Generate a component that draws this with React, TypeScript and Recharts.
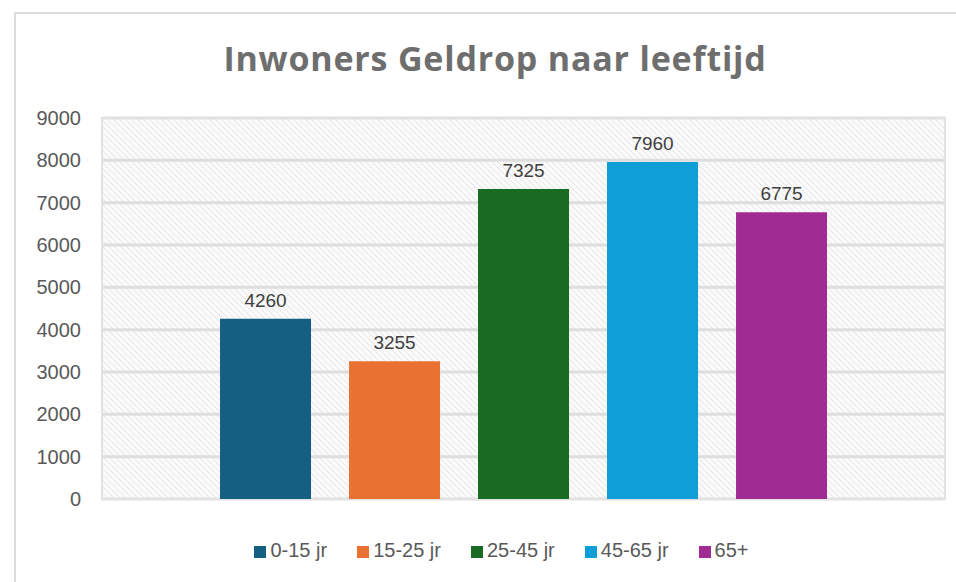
import { BarChart, Bar, XAxis, YAxis, CartesianGrid, Legend, LabelList, ReferenceArea } from "recharts";

// leeftijdsgroepen (één categorie, vijf reeksen)
const groups = ["0-15 jr", "15-25 jr", "25-45 jr", "45-65 jr", "65+"];
const inwoners = [4260, 3255, 7325, 7960, 6775];
const colors = ["#156082", "#E97132", "#196B24", "#0F9ED5", "#A02B93"];
const yTicks = [0, 1000, 2000, 3000, 4000, 5000, 6000, 7000, 8000, 9000];

const keys = groups.map((_, i) => `s${i}`);
const row: Record<string, string | number> = { name: "Geldrop" };
keys.forEach((k, i) => {
  row[k] = inwoners[i];
});
const data = [row];

const font = "'Liberation Sans', Arial, sans-serif";

export default function App() {
  return (
    <div
      style={{
        position: "absolute",
        left: 0,
        top: 0,
        width: 956,
        height: 582,
        background: "#fff",
        overflow: "hidden",
        fontFamily: font,
      }}
    >
      {/* kader */}
      <div
        style={{
          position: "absolute",
          left: 14,
          top: 12,
          width: 1000,
          height: 700,
          borderLeft: "2px solid #dcdcdc",
          borderTop: "2px solid #dcdcdc",
        }}
      />

      {/* titel */}
      <div
        style={{
          position: "absolute",
          top: 35,
          left: 0,
          width: 990,
          textAlign: "center",
          fontFamily: "'Open Sans', sans-serif",
          fontWeight: 700,
          fontSize: 34,
          letterSpacing: 0.8,
          color: "#6e6e6e",
        }}
      >
        Inwoners Geldrop naar leeftijd
      </div>

      <div style={{ position: "absolute", left: 0, top: 0 }}>
        <BarChart
          width={956}
          height={582}
          data={data}
          margin={{ top: 118, right: 11, bottom: 60, left: 12 }}
          barCategoryGap="14%"
          barGap={38}
        >
          <defs>
            <pattern id="hatch" patternUnits="userSpaceOnUse" width="6" height="6">
              <rect width="6" height="6" fill="#fafafa" />
              <path d="M-1,-1 L7,7 M-1,5 L1,7 M5,-1 L7,1" stroke="#e4e4e4" strokeWidth="1" />
            </pattern>
          </defs>
          <CartesianGrid vertical={false} stroke="#dedede" strokeWidth={3} fill="url(#hatch)" />
          <ReferenceArea y1={0} y2={9000} fill="none" stroke="#e2e2e2" strokeWidth={2} />
          <XAxis dataKey="name" hide />
          <YAxis
            domain={[0, 9000]}
            ticks={yTicks}
            interval={0}
            width={90}
            axisLine={false}
            tickLine={false}
            tickMargin={15}
            tick={{ fill: "#595959", fontSize: 20, fontFamily: font }}
          />
          <Legend
            verticalAlign="bottom"
            align="center"
            iconType="square"
            iconSize={12}
            wrapperStyle={{ bottom: 20, fontSize: 20, fontFamily: font, transform: "translateX(38px)" }}
            formatter={(value: string) => <span style={{ color: "#595959", marginRight: 20 }}>{value}</span>}
          />
          {keys.map((k, i) => (
            <Bar key={k} dataKey={k} name={groups[i]} fill={colors[i]} isAnimationActive={false}>
              <LabelList
                dataKey={k}
                position="top"
                offset={12}
                fill="#404040"
                fontSize={19}
                fontFamily={font}
              />
            </Bar>
          ))}
        </BarChart>
      </div>
    </div>
  );
}
